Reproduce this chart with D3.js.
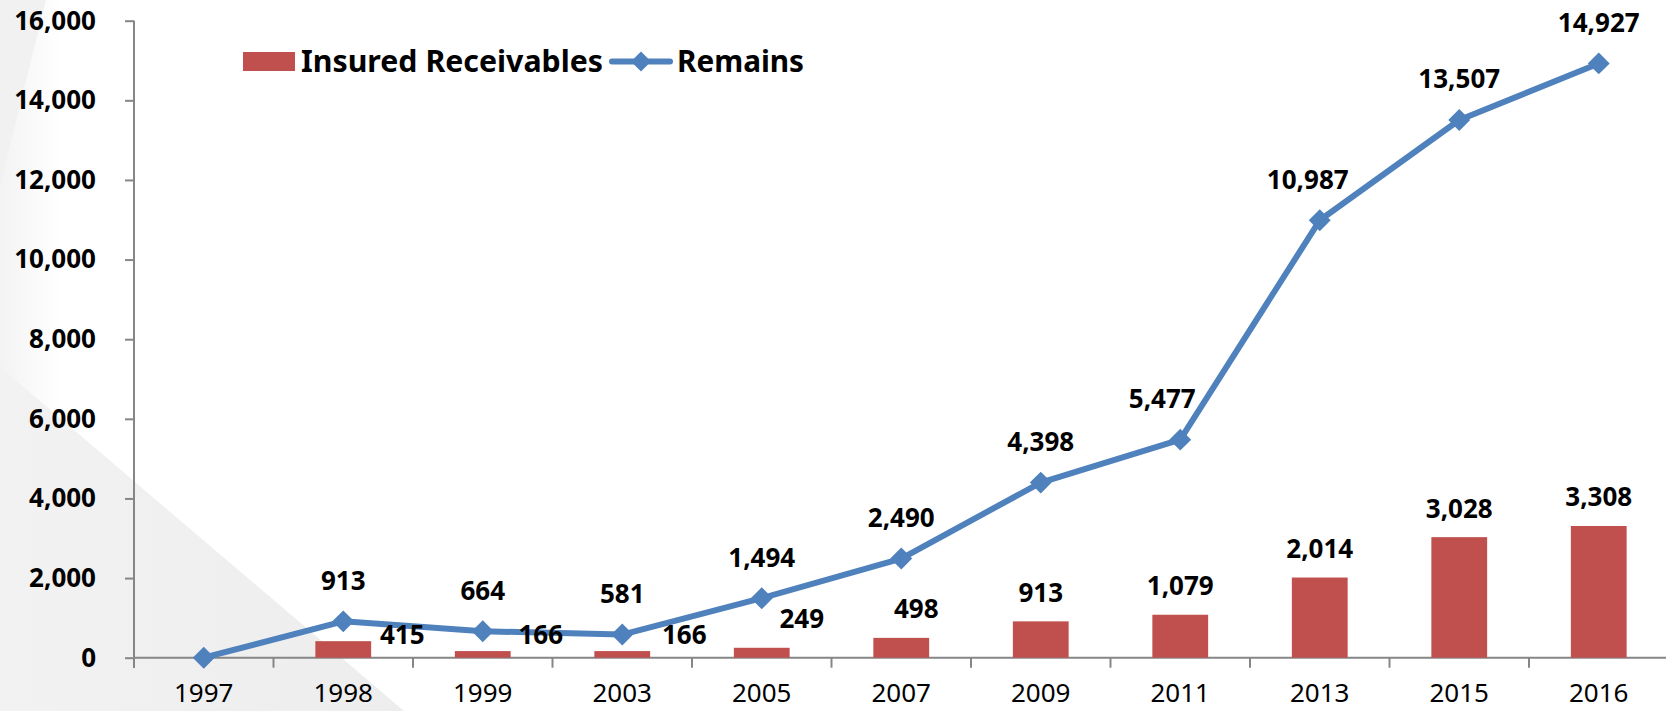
<!DOCTYPE html>
<html>
<head>
<meta charset="utf-8">
<script src="https://cdn.jsdelivr.net/npm/d3@7"></script>
<style>
  html, body { margin: 0; padding: 0; background: #fff; }
  svg { display: block; }
  text { font-family: "Noto Sans", "Open Sans", sans-serif; }
</style>
</head>
<body>
<svg id="chart" width="1666" height="711"></svg>
<script>
// ---- data ----
const years = ["1997","1998","1999","2003","2005","2007","2009","2011","2013","2015","2016"];
const insuredReceivables = [0, 415, 166, 166, 249, 498, 913, 1079, 2014, 3028, 3308];
const remains = [0, 913, 664, 581, 1494, 2490, 4398, 5477, 10987, 13507, 14927];
const yTicks = [0, 2000, 4000, 6000, 8000, 10000, 12000, 14000, 16000];
const seriesNames = ["Insured Receivables", "Remains"];

// ---- layout / style (manual label nudges as in the original) ----
const sideLabelYears = ["1998", "1999", "2003"];           // bar labels placed beside the bar
const barLabelDx = {"1998": 59, "1999": 58, "2003": 62, "2005": 40, "2007": 15};
const lineLabelDx = {"2011": -18, "2013": -12};
const W = 1666, H = 711;
const barColor = "#c0504d", lineColor = "#4f81bd", axisColor = "#868686";
const x0 = 134, slot = 139.5;
const labelFont = 26;

const svg = d3.select("#chart");

// background decoration
const defs = svg.append("defs");
const g1 = defs.append("linearGradient").attr("id", "bgGrad").attr("x1", 0).attr("y1", 0).attr("x2", 1).attr("y2", 0);
g1.append("stop").attr("offset", 0).attr("stop-color", "#f2f2f2");
g1.append("stop").attr("offset", 1).attr("stop-color", "#ededed");
const g2 = defs.append("linearGradient").attr("id", "leftGrad").attr("x1", 0).attr("y1", 0).attr("x2", 1).attr("y2", 0);
g2.append("stop").attr("offset", 0).attr("stop-color", "#f3f3f3");
g2.append("stop").attr("offset", 1).attr("stop-color", "#ffffff");
svg.append("rect").attr("x", 0).attr("y", 0).attr("width", 60).attr("height", H).attr("fill", "url(#leftGrad)");
svg.append("path").attr("d", "M0,0 L46,0 L0,185 Z").attr("fill", "#f1f1f1");
svg.append("path").attr("d", "M0,367 L404,711 L0,711 Z").attr("fill", "url(#bgGrad)");

// scales
const xSlot = d3.scaleBand().domain(years).range([x0, x0 + slot * years.length]).padding(0);
const xBar = d3.scaleBand().domain(years).range([x0, x0 + slot * years.length]).paddingInner(0.6).paddingOuter(0.3);
const y = d3.scaleLinear().domain([0, 16000]).range([657.7, 20.7]);
const fmt = d3.format(",");

// y axis
svg.append("line").attr("x1", x0).attr("x2", x0).attr("y1", y(16000)).attr("y2", y(0) + 10)
  .attr("stroke", axisColor).attr("stroke-width", 2);
const yAxis = svg.append("g").attr("transform", `translate(${x0},0)`)
  .call(d3.axisLeft(y).tickValues(yTicks).tickSize(9).tickSizeOuter(0).tickPadding(29).tickFormat(fmt));
yAxis.select(".domain").remove();
yAxis.selectAll(".tick line").attr("stroke", axisColor).attr("stroke-width", 2);
yAxis.selectAll(".tick text").attr("fill", "#000").attr("font-size", labelFont).attr("font-weight", "bold")
  .style("font-family", '"Noto Sans", "Open Sans", sans-serif');

// x axis
svg.append("line").attr("x1", x0).attr("x2", W).attr("y1", y(0)).attr("y2", y(0))
  .attr("stroke", axisColor).attr("stroke-width", 2);
svg.append("g").selectAll("line").data(years).join("line")
  .attr("x1", d => xSlot(d)).attr("x2", d => xSlot(d))
  .attr("y1", y(0)).attr("y2", y(0) + 10)
  .attr("stroke", axisColor).attr("stroke-width", 2);
const xAxis = svg.append("g").attr("transform", `translate(0,${y(0)})`)
  .call(d3.axisBottom(xSlot).tickSize(0).tickPadding(26));
xAxis.select(".domain").remove();
xAxis.selectAll(".tick text").attr("fill", "#000").attr("font-size", labelFont).attr("font-weight", "normal")
  .style("font-family", '"Noto Sans", "Open Sans", sans-serif');

// bars
svg.append("g").selectAll("rect").data(years).join("rect")
  .attr("x", (d) => xBar(d))
  .attr("width", xBar.bandwidth())
  .attr("y", (d, i) => y(insuredReceivables[i]))
  .attr("height", (d, i) => y(0) - y(insuredReceivables[i]))
  .attr("fill", barColor);

// line
const cx = d => xSlot(d) + xSlot.bandwidth() / 2;
const lineGen = d3.line().x((d, i) => cx(years[i])).y(d => y(d));
svg.append("path").datum(remains).attr("d", lineGen)
  .attr("fill", "none").attr("stroke", lineColor).attr("stroke-width", 6).attr("stroke-linejoin", "round");
const diamond = d3.symbol().type(d3.symbolSquare).size(240);
svg.append("g").selectAll("path").data(remains).join("path")
  .attr("d", diamond)
  .attr("transform", (d, i) => `translate(${cx(years[i])},${y(d)}) rotate(45)`)
  .attr("fill", lineColor);

// labels - remains
svg.append("g").selectAll("text").data(years).join("text")
  .filter((d, i) => remains[i] > 0)
  .attr("x", (d) => cx(d) + (lineLabelDx[d] || 0))
  .attr("y", d => y(remains[years.indexOf(d)]) - 41)
  .attr("dy", "0.36em")
  .attr("text-anchor", "middle").attr("font-size", labelFont).attr("font-weight", "bold").attr("fill", "#000")
  .text(d => fmt(remains[years.indexOf(d)]));

// labels - insured receivables
svg.append("g").selectAll("text").data(years).join("text")
  .filter((d, i) => insuredReceivables[i] > 0)
  .attr("x", (d) => xBar(d) + xBar.bandwidth() / 2 + (barLabelDx[d] || 0))
  .attr("y", (d) => sideLabelYears.includes(d) ? y(0) - 23 : y(insuredReceivables[years.indexOf(d)]) - 29)
  .attr("dy", "0.36em")
  .attr("text-anchor", "middle").attr("font-size", labelFont).attr("font-weight", "bold").attr("fill", "#000")
  .text(d => fmt(insuredReceivables[years.indexOf(d)]));

// legend
const leg = svg.append("g");
leg.append("rect").attr("x", 243).attr("y", 52).attr("width", 52).attr("height", 19).attr("fill", barColor);
leg.append("text").attr("x", 301).attr("y", 72).attr("font-size", 31).attr("font-weight", "bold")
  .attr("textLength", 302).attr("lengthAdjust", "spacingAndGlyphs").text(seriesNames[0]);
leg.append("line").attr("x1", 612).attr("x2", 670).attr("y1", 61.5).attr("y2", 61.5)
  .attr("stroke", lineColor).attr("stroke-width", 6).attr("stroke-linecap", "round");
leg.append("path").attr("d", d3.symbol().type(d3.symbolSquare).size(200))
  .attr("transform", "translate(641,61.5) rotate(45)").attr("fill", lineColor);
leg.append("text").attr("x", 677).attr("y", 72).attr("font-size", 31).attr("font-weight", "bold")
  .attr("textLength", 127).attr("lengthAdjust", "spacingAndGlyphs").text(seriesNames[1]);
</script>
</body>
</html>
